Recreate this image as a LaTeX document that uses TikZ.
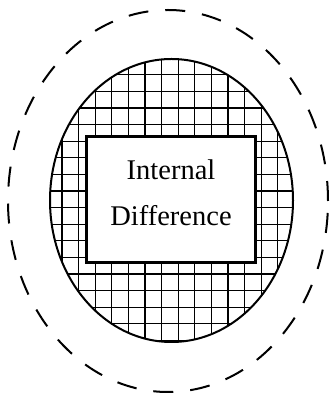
\documentclass[tikz,border=0pt]{standalone}
\usepackage{fontspec}
\setmainfont{Liberation Serif}
\usetikzlibrary{positioning}

\begin{document}
\begin{tikzpicture}[x=1pt,y=1pt,
outer/.style={line width=2pt,dash pattern=on 20pt off 17pt},
rim/.style={line width=2pt},
mesh/.style={line width=1.2pt},
box/.style={rectangle,draw,line width=3pt,fill=white,align=center,minimum width=169pt,minimum height=126pt,font=\fontsize{28.5}{46}\selectfont}]
\useasboundingbox (0,0) rectangle (329,393);
\coordinate (c) at (171.5,192.5);
% dashed outer boundary
\draw[outer] (168,192) ellipse [x radius=160,y radius=191];
% hatched ring
\begin{scope}
\clip (c) ellipse [x radius=121.5,y radius=141.5];
\foreach \i in {-7,...,8}
  \draw[mesh] (161.5+16.6*\i,40) -- (161.5+16.6*\i,350);
\foreach \j in {-8,...,10}
  \draw[mesh] (40,218.5-16.6*\j) -- (300,218.5-16.6*\j);
\end{scope}
\draw[rim] (c) ellipse [x radius=121.5,y radius=141.5];
\node[box](diff) at (171,193.5){Internal\\Difference\strut};
\end{tikzpicture}
\end{document}
